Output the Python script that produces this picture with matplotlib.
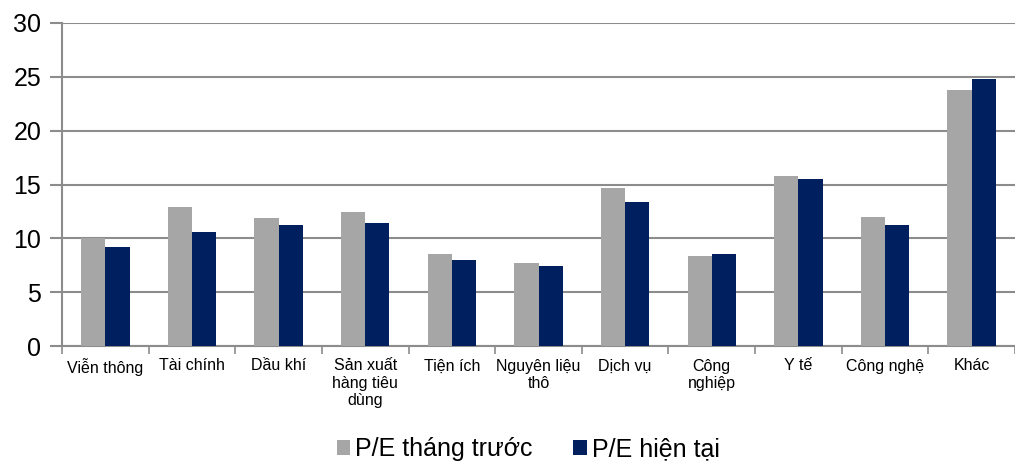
import numpy as np
import matplotlib
matplotlib.use("Agg")
import matplotlib.pyplot as plt
from matplotlib.ticker import FixedLocator

plt.rcParams["font.family"] = ["Liberation Sans", "DejaVu Sans"]

categories = [
    "Viễn thông", "Tài chính", "Dầu khí", "Sản xuất\nhàng tiêu\ndùng", "Tiện ích",
    "Nguyên liệu\nthô", "Dịch vụ", "Công\nnghiệp", "Y tế", "Công nghệ", "Khác",
]
pe_last_month = [10.0, 12.9, 11.9, 12.4, 8.5, 7.7, 14.7, 8.4, 15.8, 12.0, 23.8]
pe_current = [9.2, 10.6, 11.2, 11.4, 8.0, 7.4, 13.4, 8.5, 15.5, 11.2, 24.8]

gray = "#a6a6a6"
navy = "#001f5f"
line_gray = "#8c8c8c"


def main():
    fig = plt.figure(figsize=(10.15, 4.63), dpi=100)
    ax = fig.add_axes([62 / 1015, 117 / 463, 953 / 1015, 323 / 463])

    x = np.arange(len(categories))
    w = 0.28
    ax.bar(x - w / 2, pe_last_month, width=w, color=gray, label="P/E tháng trước", zorder=3)
    ax.bar(x + w / 2, pe_current, width=w, color=navy, label="P/E hiện tại", zorder=3)

    ax.set_xlim(-0.5, len(categories) - 0.5)
    ax.set_ylim(0, 30)
    ax.set_yticks(range(0, 31, 5))
    ax.yaxis.grid(True, color=line_gray, linewidth=1.5, zorder=0)

    ax.set_xticks(x)
    ax.set_xticklabels(categories, fontsize=11.5, linespacing=1.2, va="top")
    ax.tick_params(axis="x", which="major", length=0, pad=9)
    ax.xaxis.set_minor_locator(FixedLocator(np.arange(-0.5, len(categories), 1.0)))
    ax.tick_params(axis="x", which="minor", length=6, width=1.2, color=line_gray)
    ax.tick_params(axis="y", length=9, width=1.5, color=line_gray, labelsize=18, pad=6)

    for side in ["top", "right"]:
        ax.spines[side].set_visible(False)
    for side in ["left", "bottom"]:
        ax.spines[side].set_color(line_gray)
        ax.spines[side].set_linewidth(1.5)

    fig.legend(loc="center", bbox_to_anchor=(528 / 1015, 1 - 449 / 463), ncol=2,
               frameon=False, fontsize=18, handlelength=0.55, handleheight=0.55,
               handletextpad=0.2, columnspacing=1.6)

    fig.savefig("out.png", dpi=100)


if __name__ == "__main__":
    main()
